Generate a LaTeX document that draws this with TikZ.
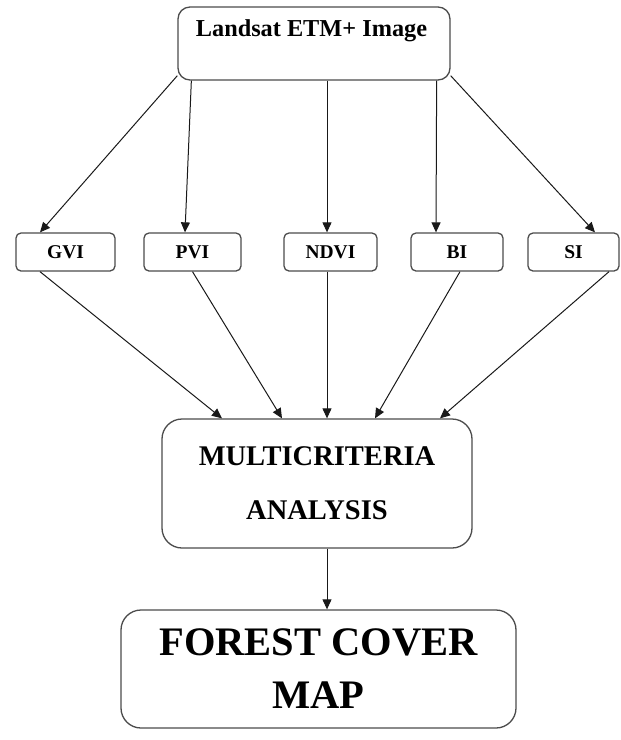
\documentclass[tikz,border=0pt]{standalone}
\usepackage{fontspec}
\setmainfont{Liberation Serif}
\usetikzlibrary{arrows.meta}
\begin{document}
\begin{tikzpicture}[x=1pt,y=1pt,
  box/.style={draw=black!70, line width=1.3pt, inner sep=0pt},
  smallbox/.style={box, rounded corners=5pt, minimum height=38pt, font=\bfseries\fontsize{19.5}{22}\selectfont},
  arr/.style={draw=black!90, line width=1pt, -{Triangle[length=10pt,width=9pt]}}]
\useasboundingbox (0,0) rectangle (621,-740);
% boxes
\node[box, rounded corners=12pt, minimum width=272pt, minimum height=73pt] (top) at (314,-43.5) {};
\node[anchor=base, font=\bfseries\fontsize{24.3}{28}\selectfont] (toptext) at (311.5,-36) {Landsat ETM+ Image};
\node[smallbox, minimum width=99pt] (gvi) at (65.5,-252) {GVI};
\node[smallbox, minimum width=97pt] (pvi) at (192.5,-252) {PVI};
\node[smallbox, minimum width=93pt] (ndvi) at (330.5,-252) {NDVI};
\node[smallbox, minimum width=92pt] (bi) at (457,-252) {BI};
\node[smallbox, minimum width=91pt] (si) at (573.5,-252) {SI};
\node[box, rounded corners=20pt, minimum width=310pt, minimum height=129pt, align=center,
  font=\bfseries\fontsize{28.5}{54}\selectfont] (mca) at (317,-483.5) {MULTICRITERIA\\ANALYSIS};
\node[box, rounded corners=20pt, minimum width=395pt, minimum height=118pt, align=center,
  font=\bfseries\fontsize{40.5}{53}\selectfont] (fcm) at (318.5,-669) {FOREST COVER\\MAP};
% top to indices
\draw[arr] ([yshift=5pt]top.south west) -- ([xshift=-25.5pt]gvi.north);
\draw[arr] ([xshift=14pt]top.south west) -- ([xshift=-7.5pt]pvi.north);
\draw[arr] ([xshift=13pt]top.south) -- ([xshift=-3.5pt]ndvi.north);
\draw[arr] ([xshift=-14pt]top.south east) -- ([xshift=-21pt]bi.north);
\draw[arr] ([yshift=5pt]top.south east) -- ([xshift=21.5pt]si.north);
% indices to MCA
\draw[arr] ([xshift=-25.5pt]gvi.south) -- ([xshift=-95pt]mca.north);
\draw[arr] (pvi.south) -- ([xshift=-35pt]mca.north);
\draw[arr] ([xshift=-3.5pt]ndvi.south) -- ([xshift=10pt]mca.north);
\draw[arr] ([xshift=3pt]bi.south) -- ([xshift=58pt]mca.north);
\draw[arr] ([xshift=35.5pt]si.south) -- ([xshift=123pt]mca.north);
% MCA to map
\draw[arr] ([xshift=10pt]mca.south) -- ([xshift=8.5pt]fcm.north);
\end{tikzpicture}
\end{document}
